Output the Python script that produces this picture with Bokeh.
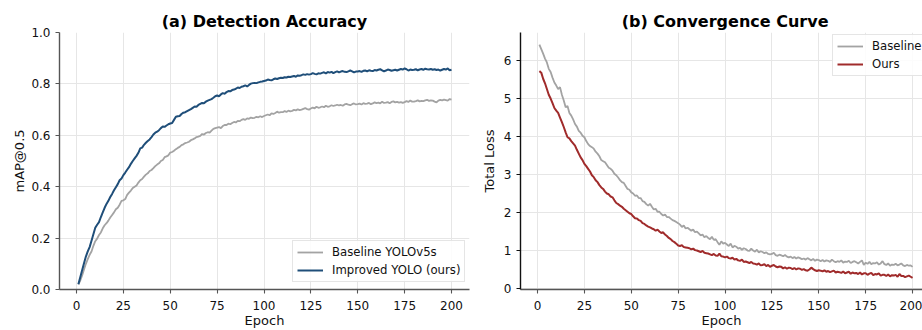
from bokeh.plotting import figure
from bokeh.layouts import row
from bokeh.models import Legend, LegendItem, FixedTicker, Range1d
from bokeh.embed import file_html
from bokeh.resources import INLINE

epochs = list(range(1, 201))

map_baseline = [
    0.020, 0.035, 0.055, 0.078, 0.100, 0.118, 0.135, 0.148, 0.170, 0.188,
    0.198, 0.212, 0.222, 0.238, 0.250, 0.258, 0.268, 0.280, 0.290, 0.300,
    0.312, 0.318, 0.330, 0.345, 0.347, 0.352, 0.368, 0.377, 0.385, 0.395,
    0.400, 0.405, 0.416, 0.425, 0.430, 0.439, 0.447, 0.452, 0.461, 0.465,
    0.472, 0.480, 0.486, 0.491, 0.500, 0.504, 0.515, 0.518, 0.522, 0.533,
    0.535, 0.540, 0.546, 0.551, 0.555, 0.562, 0.565, 0.570, 0.572, 0.575,
    0.581, 0.584, 0.588, 0.593, 0.595, 0.598, 0.605, 0.603, 0.609, 0.612,
    0.610, 0.618, 0.625, 0.628, 0.630, 0.632, 0.628, 0.636, 0.640, 0.640,
    0.645, 0.643, 0.648, 0.652, 0.650, 0.656, 0.655, 0.660, 0.663, 0.660,
    0.666, 0.664, 0.669, 0.667, 0.668, 0.672, 0.670, 0.674, 0.671, 0.675,
    0.678, 0.681, 0.678, 0.685, 0.683, 0.687, 0.692, 0.688, 0.690, 0.690,
    0.694, 0.691, 0.696, 0.693, 0.695, 0.699, 0.697, 0.701, 0.698, 0.700,
    0.703, 0.706, 0.702, 0.700, 0.704, 0.708, 0.705, 0.711, 0.707, 0.709,
    0.712, 0.709, 0.715, 0.711, 0.713, 0.717, 0.714, 0.716, 0.719, 0.716,
    0.718, 0.715, 0.720, 0.722, 0.719, 0.717, 0.721, 0.724, 0.720, 0.721,
    0.723, 0.720, 0.725, 0.722, 0.723, 0.726, 0.721, 0.724, 0.728, 0.725,
    0.727, 0.724, 0.731, 0.726, 0.727, 0.729, 0.725, 0.730, 0.732, 0.728,
    0.730, 0.727, 0.729, 0.726, 0.729, 0.733, 0.730, 0.735, 0.731, 0.731,
    0.733, 0.736, 0.732, 0.734, 0.733, 0.736, 0.738, 0.734, 0.736, 0.735,
    0.731, 0.728, 0.735, 0.738, 0.736, 0.739, 0.737, 0.735, 0.741, 0.739,
]

map_improved = [
    0.020, 0.048, 0.075, 0.102, 0.128, 0.148, 0.165, 0.190, 0.215, 0.240,
    0.252, 0.262, 0.282, 0.300, 0.318, 0.333, 0.345, 0.360, 0.372, 0.386,
    0.398, 0.410, 0.425, 0.432, 0.445, 0.455, 0.466, 0.476, 0.489, 0.500,
    0.510, 0.520, 0.532, 0.549, 0.552, 0.563, 0.571, 0.578, 0.584, 0.593,
    0.603, 0.610, 0.614, 0.620, 0.628, 0.634, 0.633, 0.638, 0.643, 0.646,
    0.648, 0.660, 0.672, 0.674, 0.675, 0.683, 0.688, 0.690, 0.694, 0.698,
    0.702, 0.707, 0.712, 0.711, 0.718, 0.722, 0.726, 0.725, 0.731, 0.735,
    0.738, 0.741, 0.746, 0.752, 0.755, 0.752, 0.759, 0.764, 0.762, 0.768,
    0.772, 0.771, 0.776, 0.778, 0.781, 0.786, 0.784, 0.789, 0.791, 0.794,
    0.790, 0.796, 0.801, 0.803, 0.804, 0.803, 0.806, 0.808, 0.809, 0.811,
    0.813, 0.817, 0.815, 0.814, 0.818, 0.821, 0.819, 0.822, 0.824, 0.823,
    0.826, 0.825, 0.828, 0.827, 0.829, 0.831, 0.828, 0.833, 0.832, 0.834,
    0.837, 0.835, 0.838, 0.836, 0.838, 0.842, 0.839, 0.837, 0.841, 0.840,
    0.843, 0.845, 0.841, 0.846, 0.844, 0.847, 0.842, 0.846, 0.849, 0.845,
    0.848, 0.850, 0.847, 0.846, 0.849, 0.852, 0.849, 0.845, 0.848, 0.848,
    0.850, 0.847, 0.851, 0.852, 0.849, 0.853, 0.851, 0.850, 0.854, 0.852,
    0.855, 0.857, 0.853, 0.849, 0.852, 0.856, 0.854, 0.851, 0.853, 0.855,
    0.852, 0.855, 0.858, 0.856, 0.860, 0.857, 0.852, 0.856, 0.854, 0.855,
    0.857, 0.853, 0.856, 0.858, 0.855, 0.859, 0.857, 0.856, 0.858, 0.855,
    0.857, 0.854, 0.856, 0.852, 0.855, 0.858, 0.856, 0.860, 0.853, 0.855,
]

loss_baseline = [
    6.42, 6.30, 6.18, 6.05, 5.95, 5.78, 5.70, 5.55, 5.42, 5.34,
    5.25, 5.30, 5.10, 4.95, 4.77, 4.80, 4.62, 4.55, 4.45, 4.33,
    4.26, 4.15, 4.10, 4.02, 3.98, 3.88, 3.80, 3.75, 3.72, 3.68,
    3.60, 3.55, 3.48, 3.38, 3.35, 3.32, 3.25, 3.18, 3.15, 3.10,
    3.02, 2.98, 2.92, 2.85, 2.80, 2.78, 2.70, 2.62, 2.60, 2.53,
    2.50, 2.44, 2.45, 2.38, 2.38, 2.30, 2.28, 2.22, 2.18, 2.23,
    2.15, 2.08, 2.10, 2.02, 2.02, 1.96, 1.92, 1.95, 1.88, 1.88,
    1.84, 1.80, 1.78, 1.75, 1.72, 1.68, 1.62, 1.66, 1.58, 1.60,
    1.56, 1.52, 1.55, 1.48, 1.50, 1.45, 1.40, 1.42, 1.35, 1.38,
    1.33, 1.30, 1.36, 1.28, 1.30, 1.22, 1.15, 1.24, 1.18, 1.20,
    1.16, 1.12, 1.18, 1.08, 1.12, 1.10, 1.05, 1.07, 1.02, 1.06,
    1.04, 1.00, 0.99, 1.05, 1.00, 0.97, 1.02, 0.95, 0.98, 0.96,
    0.93, 0.95, 0.91, 0.90, 0.91, 0.94, 0.88, 0.86, 0.89, 0.87,
    0.85, 0.88, 0.84, 0.82, 0.84, 0.80, 0.83, 0.79, 0.82, 0.80,
    0.77, 0.79, 0.76, 0.80, 0.77, 0.74, 0.78, 0.73, 0.76, 0.75,
    0.72, 0.75, 0.71, 0.74, 0.73, 0.70, 0.76, 0.72, 0.69, 0.72,
    0.70, 0.74, 0.68, 0.71, 0.70, 0.73, 0.67, 0.70, 0.72, 0.69,
    0.66, 0.70, 0.74, 0.62, 0.68, 0.65, 0.70, 0.64, 0.67, 0.66,
    0.69, 0.63, 0.66, 0.72, 0.64, 0.62, 0.66, 0.60, 0.63, 0.62,
    0.65, 0.61, 0.63, 0.66, 0.61, 0.59, 0.62, 0.60, 0.61, 0.57,
]

loss_ours = [
    5.72, 5.68, 5.52, 5.40, 5.25, 5.10, 5.00, 4.88, 4.75, 4.68,
    4.62, 4.50, 4.38, 4.25, 4.11, 3.98, 3.95, 3.88, 3.82, 3.76,
    3.65, 3.55, 3.45, 3.38, 3.28, 3.22, 3.15, 3.08, 2.98, 2.93,
    2.85, 2.80, 2.72, 2.66, 2.62, 2.55, 2.50, 2.48, 2.42, 2.40,
    2.32, 2.25, 2.22, 2.18, 2.15, 2.10, 2.06, 2.02, 1.98, 1.96,
    1.90, 1.85, 1.84, 1.80, 1.78, 1.72, 1.70, 1.66, 1.63, 1.61,
    1.58, 1.56, 1.52, 1.55, 1.50, 1.46, 1.48, 1.42, 1.38, 1.33,
    1.30, 1.25, 1.22, 1.18, 1.13, 1.12, 1.14, 1.09, 1.08, 1.07,
    1.06, 1.03, 1.05, 1.01, 1.00, 0.98, 0.96, 0.99, 0.94, 0.93,
    0.92, 0.90, 0.88, 0.91, 0.87, 0.86, 0.92, 0.85, 0.84, 0.82,
    0.84, 0.80, 0.79, 0.81, 0.76, 0.78, 0.74, 0.73, 0.76, 0.70,
    0.71, 0.69, 0.67, 0.70, 0.66, 0.65, 0.63, 0.66, 0.61, 0.62,
    0.64, 0.59, 0.62, 0.57, 0.60, 0.62, 0.58, 0.56, 0.58, 0.57,
    0.53, 0.56, 0.52, 0.55, 0.54, 0.51, 0.54, 0.50, 0.53, 0.52,
    0.49, 0.51, 0.48, 0.47, 0.50, 0.55, 0.51, 0.48, 0.46, 0.48,
    0.47, 0.45, 0.48, 0.44, 0.46, 0.43, 0.45, 0.47, 0.42, 0.44,
    0.43, 0.41, 0.45, 0.40, 0.42, 0.44, 0.39, 0.42, 0.40, 0.41,
    0.38, 0.42, 0.37, 0.40, 0.40, 0.36, 0.39, 0.41, 0.35, 0.38,
    0.37, 0.40, 0.34, 0.36, 0.36, 0.33, 0.37, 0.32, 0.35, 0.34,
    0.36, 0.31, 0.38, 0.33, 0.33, 0.30, 0.32, 0.34, 0.31, 0.28,
]

x_ticks = [0, 25, 50, 75, 100, 125, 150, 175, 200]
y_ticks_a = [0.0, 0.2, 0.4, 0.6, 0.8, 1.0]
y_tick_labels_a = ["0.0", "0.2", "0.4", "0.6", "0.8", "1.0"]
y_ticks_b = [0, 1, 2, 3, 4, 5, 6]

title_a = "(a) Detection Accuracy"
title_b = "(b) Convergence Curve"
ylabel_a = "mAP@0.5"
ylabel_b = "Total Loss"
xlabel = "Epoch"
labels_a = ["Baseline YOLOv5s", "Improved YOLO (ours)"]
labels_b = ["Baseline", "Ours"]

GRAY = "#a3a3a3"
BLUE = "#1f4e79"
RED = "#a02b2b"
FONT = "DejaVu Sans"


def style(p, title, ylabel, yticks, ycolor, ystandoff):
    p.outline_line_color = None
    p.background_fill_color = "white"
    p.border_fill_color = "white"
    p.title.text = title
    p.title.text_font = FONT
    p.title.text_font_size = "16px"
    p.title.text_font_style = "bold"
    p.title.text_color = "#000000"
    p.title.standoff = 3
    for ax in (p.xaxis[0], p.yaxis[0]):
        ax.major_tick_in = 0
        ax.major_tick_out = 4
        ax.minor_tick_line_color = None
        ax.major_label_text_font = FONT
        ax.major_label_text_font_size = "12px"
        ax.major_label_text_color = "#111111"
        ax.major_label_standoff = 5
        ax.axis_line_width = 1.4
        ax.major_tick_line_width = 1.1
        ax.axis_label_text_font = FONT
        ax.axis_label_text_font_size = "13px"
        ax.axis_label_text_font_style = "normal"
        ax.axis_label_text_color = "#111111"
    p.xaxis[0].axis_line_color = "#555555"
    p.xaxis[0].major_tick_line_color = "#555555"
    p.yaxis[0].axis_line_color = ycolor
    p.yaxis[0].major_tick_line_color = ycolor
    p.xaxis[0].ticker = FixedTicker(ticks=x_ticks)
    p.yaxis[0].ticker = FixedTicker(ticks=yticks)
    p.yaxis[0].axis_label = ylabel
    p.yaxis[0].axis_label_standoff = ystandoff
    p.xaxis[0].axis_label = xlabel
    p.xaxis[0].major_label_standoff = 7
    p.xaxis[0].axis_label_standoff = 0
    p.xaxis[0].axis_label_text_line_height = 1.0
    p.xaxis[0].major_label_text_line_height = 1.0
    for g in (p.xgrid[0], p.ygrid[0]):
        g.grid_line_color = "#e6e6e6"
        g.grid_line_width = 1
    p.xgrid[0].ticker = FixedTicker(ticks=x_ticks)
    p.ygrid[0].ticker = FixedTicker(ticks=yticks)


def add_legend(p, items, loc):
    leg = Legend(items=items, location=loc)
    leg.label_text_font = FONT
    leg.label_text_font_size = "11.7px"
    leg.label_text_color = "#111111"
    leg.glyph_width = 26
    leg.glyph_height = 14
    leg.label_height = 14
    leg.spacing = 4
    leg.padding = 4
    leg.margin = 0
    leg.label_standoff = 9
    leg.border_line_color = "#cccccc"
    leg.border_line_width = 1
    leg.background_fill_alpha = 0.85
    p.add_layout(leg)


# ---------- (a) ----------
p1 = figure(width=472, height=330, output_backend="svg", toolbar_location=None,
            x_range=Range1d(-9.07, 209.6), y_range=Range1d(0, 1),
            min_border_left=59, min_border_right=3, min_border_top=32,
            min_border_bottom=41)
style(p1, title_a, ylabel_a, y_ticks_a, "#555555", 1)
p1.title.align = "center"
p1.yaxis[0].major_label_overrides = {t: s for t, s in zip(y_ticks_a, y_tick_labels_a)}
r1 = p1.line(epochs, map_baseline, line_color=GRAY, line_width=1.8)
r2 = p1.line(epochs, map_improved, line_color=BLUE, line_width=2.0)
add_legend(p1, [LegendItem(label=labels_a[0], renderers=[r1]),
                LegendItem(label=labels_a[1], renderers=[r2])], (233, 7))

# ---------- (b) ----------
p2 = figure(width=450, height=330, output_backend="svg", toolbar_location=None,
            x_range=Range1d(-9.07, 205.3), y_range=Range1d(-0.026, 6.737),
            min_border_left=48, min_border_right=0, min_border_top=32,
            min_border_bottom=41)
style(p2, title_b, ylabel_b, y_ticks_b, "#111111", 4)
p2.title.align = "right"
p2.title.offset = 94
r3 = p2.line(epochs, loss_baseline, line_color=GRAY, line_width=1.8)
r4 = p2.line(epochs, loss_ours, line_color=RED, line_width=2.0)
add_legend(p2, [LegendItem(label=labels_b[0], renderers=[r3]),
                LegendItem(label=labels_b[1], renderers=[r4])], (312, 213))

layout = row(p1, p2)
open("out.html", "w").write(file_html(layout, INLINE))
